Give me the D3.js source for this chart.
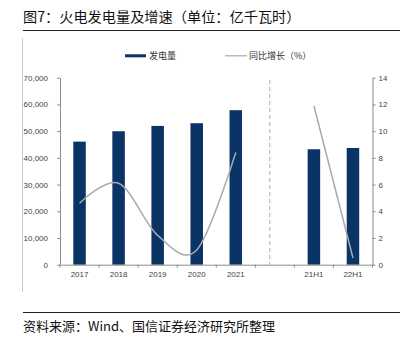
<!DOCTYPE html>
<html><head><meta charset="utf-8">
<script src="https://cdn.jsdelivr.net/npm/d3@7"></script>
<style>
html,body{margin:0;padding:0;background:#fff;}
svg{display:block;}
</style></head>
<body>
<svg id="c" width="408" height="341"></svg>
<script>
const categories = ["2017","2018","2019","2020","2021"," ","21H1","22H1"];
const annualCats = ["2017","2018","2019","2020","2021"];
const annualGen = [46070, 49960, 51950, 52960, 57830];
const annualGrowth = [4.6, 6.1, 2.2, 1.1, 8.4];
const halfCats = ["21H1","22H1"];
const halfGen = [43220, 43700];
const halfGrowth = [11.9, 0.5];
const leftTicks = [0,10000,20000,30000,40000,50000,60000,70000];
const rightTicks = [0,2,4,6,8,10,12,14];
const title = "图7：火电发电量及增速（单位：亿千瓦时）";
const source = "资料来源：Wind、国信证券经济研究所整理";
const legendLabels = ["发电量","同比增长（%）"];

const svg = d3.select("#c");
const CJK = "'Noto Sans CJK SC','Noto Sans',sans-serif";
const barColor = "#0a3366";
const lineColor = "#aaaaaa";
const axisColor = "#8c8c8c";

// frame
svg.append("text").attr("x",23).attr("y",22).attr("font-family",CJK).attr("font-size",14.2)
  .attr("fill","#111").text(title);
svg.append("line").attr("x1",23).attr("x2",400).attr("y1",30.5).attr("y2",30.5).attr("stroke","#222").attr("stroke-width",1);
svg.append("line").attr("x1",22.5).attr("x2",22.5).attr("y1",38).attr("y2",292).attr("stroke","#c8c8c8").attr("stroke-width",1);
svg.append("line").attr("x1",23).attr("x2",400).attr("y1",312.5).attr("y2",312.5).attr("stroke","#222").attr("stroke-width",1);
svg.append("text").attr("x",23).attr("y",331).attr("font-family",CJK).attr("font-size",13)
  .attr("fill","#111").text(source);

// scales
const x = d3.scaleBand().domain(categories).range([60,372.5]).paddingInner(0).paddingOuter(0);
const yL = d3.scaleLinear().domain([0,70000]).range([264.7,77.7]);
const yR = d3.scaleLinear().domain([0,14]).range([264.7,77.7]);
const bw = x.bandwidth()*0.32;
const cx = c => x(c) + x.bandwidth()/2;

// dashed separator
svg.append("line").attr("x1", x(" ")+x.bandwidth()*0.37).attr("x2", x(" ")+x.bandwidth()*0.37)
  .attr("y1",80).attr("y2",yL(0)).attr("stroke","#9fb3c9").attr("stroke-width",1).attr("stroke-dasharray","4,3");

// bars
const bars = annualCats.map((c,i)=>({c, v:annualGen[i]})).concat(halfCats.map((c,i)=>({c, v:halfGen[i]})));
svg.append("g").selectAll("rect").data(bars).join("rect")
  .attr("x", d=>cx(d.c)-bw/2).attr("width", bw)
  .attr("y", d=>yL(d.v)).attr("height", d=>yL(0)-yL(d.v)).attr("fill", barColor);

// lines
const lineGen = d3.line().x(d=>cx(d.c)).y(d=>yR(d.v)).curve(d3.curveCardinal.tension(0));
svg.append("path").datum(annualCats.map((c,i)=>({c, v:annualGrowth[i]})))
  .attr("d", lineGen).attr("fill","none").attr("stroke",lineColor).attr("stroke-width",1.5);
svg.append("path").datum(halfCats.map((c,i)=>({c, v:halfGrowth[i]})))
  .attr("d", d3.line().x(d=>cx(d.c)).y(d=>yR(d.v))).attr("fill","none").attr("stroke",lineColor).attr("stroke-width",1.5);

// axes
function styleAxis(g){
  g.selectAll(".domain").attr("stroke",axisColor);
  g.selectAll(".tick line").attr("stroke",axisColor);
  g.selectAll("text").attr("fill","#444").attr("font-family","'Liberation Sans',Arial,sans-serif").attr("font-size",8);
}
const gL = svg.append("g").attr("transform","translate(60,0)")
  .call(d3.axisLeft(yL).tickValues(leftTicks).tickFormat(d3.format(",")).tickSize(3).tickPadding(9).tickSizeOuter(0));
styleAxis(gL);
const gR = svg.append("g").attr("transform","translate(372.5,0)")
  .call(d3.axisRight(yR).tickValues(rightTicks).tickSize(3).tickPadding(3).tickSizeOuter(0));
styleAxis(gR);
const gB = svg.append("g").attr("transform",`translate(0,${yL(0)})`)
  .call(d3.axisBottom(x).tickSize(0).tickPadding(7).tickSizeOuter(0));
styleAxis(gB);
// boundary ticks on the category axis
const bounds = categories.map(c=>x(c)).concat([x.range()[1]]);
gB.selectAll("line.bt").data(bounds).join("line").attr("class","bt")
  .attr("x1",d=>d).attr("x2",d=>d).attr("y1",0).attr("y2",3).attr("stroke",axisColor);

// legend
const lg = svg.append("g").attr("font-family",CJK).attr("font-size",9).attr("fill","#333");
lg.append("rect").attr("x",125).attr("y",54.3).attr("width",21).attr("height",3).attr("fill",barColor);
lg.append("text").attr("x",149).attr("y",59).attr("fill","#333").text(legendLabels[0]);
lg.append("line").attr("x1",225).attr("x2",247).attr("y1",55.8).attr("y2",55.8).attr("stroke",lineColor).attr("stroke-width",1.2);
lg.append("text").attr("x",249).attr("y",59).attr("fill","#333").text(legendLabels[1]);
</script>
</body></html>
